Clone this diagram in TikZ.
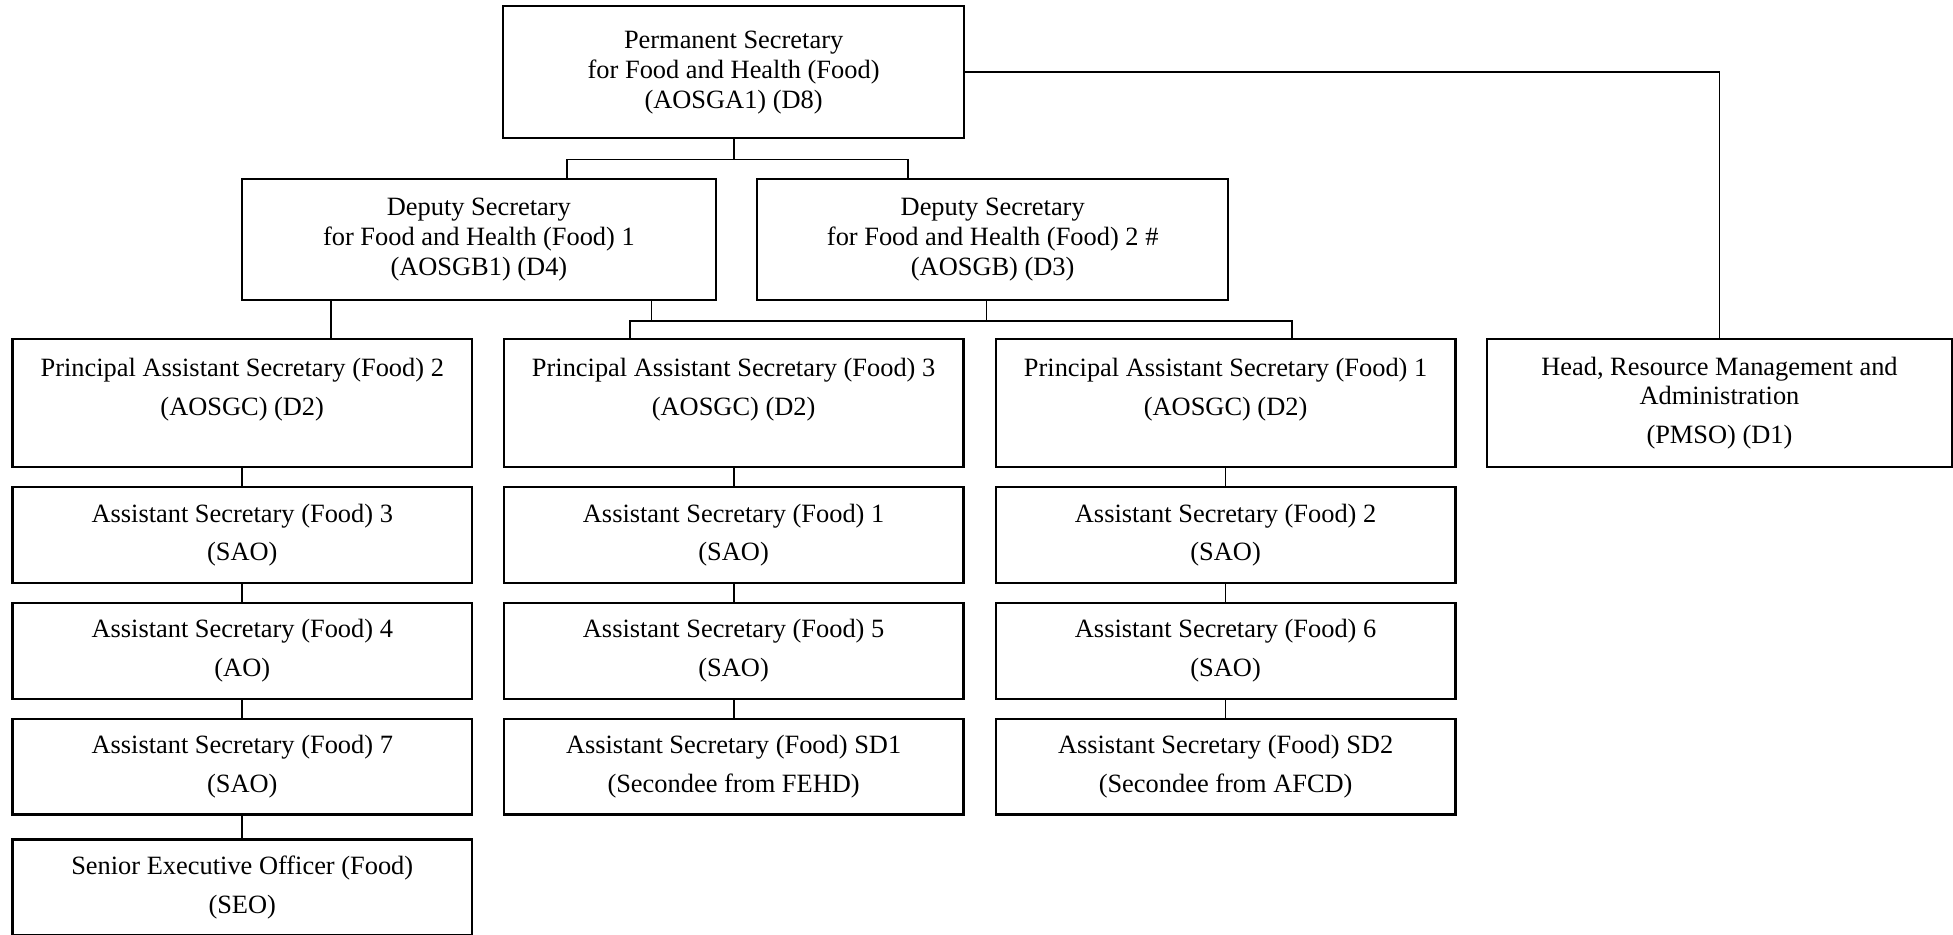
\documentclass[tikz,border=0pt]{standalone}
\usepackage{fontspec}
\setmainfont{Liberation Serif}
\usepackage{tikz}

\tikzset{
    post/.style={draw, line width=0.9pt, align=center, inner sep=0pt,
        minimum width=184.5pt, font=\fontsize{10.6}{12}\selectfont},
    link/.style={line width=0.7pt}
}

\begin{document}
\begin{tikzpicture}[x=0.5pt, y=-0.5pt]
    \useasboundingbox (0,0) rectangle (1568,750);

    \node[post, minimum width=185pt, minimum height=53pt] (ps) at (589,58)
        {Permanent Secretary\\for Food and Health (Food)\\(AOSGA1) (D8)};
    \node[post, minimum width=190.5pt, minimum height=48.5pt] (dsa) at (384.5,192.5)
        {Deputy Secretary\\for Food and Health (Food) 1\\(AOSGB1) (D4)};
    \node[post, minimum width=189pt, minimum height=48.5pt] (dsb) at (797,192.5)
        {Deputy Secretary\\for Food and Health (Food) 2 \#\\(AOSGB) (D3)};

    \node[post, minimum height=51.5pt] (pasb) at (194.5,323.5)
        {Principal Assistant Secretary (Food) 2\\[3.5pt](AOSGC) (D2)\\[1pt]\mbox{}};
    \node[post, minimum height=51.5pt] (pasc) at (589,323.5)
        {Principal Assistant Secretary (Food) 3\\[3.5pt](AOSGC) (D2)\\[1pt]\mbox{}};
    \node[post, minimum height=51.5pt] (pasa) at (984,323.5)
        {Principal Assistant Secretary (Food) 1\\[3.5pt](AOSGC) (D2)\\[1pt]\mbox{}};
    \node[post, minimum width=186.5pt, minimum height=51.5pt] (head) at (1380.5,323.5)
        {Head, Resource Management and\\Administration\\[3.5pt](PMSO) (D1)};

    \node[post, minimum height=38.5pt] (asc) at (194.5,429.5)
        {Assistant Secretary (Food) 3\\[3.5pt](SAO)};
    \node[post, minimum height=38.5pt] (asd) at (194.5,522.5)
        {Assistant Secretary (Food) 4\\[3.5pt](AO)};
    \node[post, minimum height=38.5pt] (asg) at (194.5,615.5)
        {Assistant Secretary (Food) 7\\[3.5pt](SAO)};
    \node[post, minimum height=38.5pt] (seo) at (194.5,712.5)
        {Senior Executive Officer (Food)\\[3.5pt](SEO)};

    \node[post, minimum height=38.5pt] (asa) at (589,429.5)
        {Assistant Secretary (Food) 1\\[3.5pt](SAO)};
    \node[post, minimum height=38.5pt] (ase) at (589,522.5)
        {Assistant Secretary (Food) 5\\[3.5pt](SAO)};
    \node[post, minimum height=38.5pt] (sda) at (589,615.5)
        {Assistant Secretary (Food) SD1\\[3.5pt](Secondee from FEHD)};

    \node[post, minimum height=38.5pt] (asb) at (984,429.5)
        {Assistant Secretary (Food) 2\\[3.5pt](SAO)};
    \node[post, minimum height=38.5pt] (asf) at (984,522.5)
        {Assistant Secretary (Food) 6\\[3.5pt](SAO)};
    \node[post, minimum height=38.5pt] (sdb) at (984,615.5)
        {Assistant Secretary (Food) SD2\\[3.5pt](Secondee from AFCD)};

    \coordinate (ja) at (455,128);
    \coordinate (jb) at (729,128);
    \coordinate (ka) at (506,258);
    \coordinate (kb) at (1037,258);
    \coordinate (kc) at (523,258);
    \coordinate (kd) at (792,258);
    \coordinate (ke) at (266,258);

    \draw[link] (ps.south) -- (ps.south |- ja);
    \draw[link] (ja |- dsa.north) -- (ja) -- (jb) -- (jb |- dsb.north);
    \draw[link] (ps.east) -| (head.north);

    \draw[link] (ke |- dsa.south) -- (ke |- pasb.north);
    \draw[link] (kc |- dsa.south) -- (kc);
    \draw[link] (kd |- dsb.south) -- (kd);
    \draw[link] (ka |- pasc.north) -- (ka) -- (kb) -- (kb |- pasa.north);

    \draw[link] (pasb) -- (asc);
    \draw[link] (asc) -- (asd);
    \draw[link] (asd) -- (asg);
    \draw[link] (asg) -- (seo);

    \draw[link] (pasc) -- (asa);
    \draw[link] (asa) -- (ase);
    \draw[link] (ase) -- (sda);

    \draw[link] (pasa) -- (asb);
    \draw[link] (asb) -- (asf);
    \draw[link] (asf) -- (sdb);
\end{tikzpicture}
\end{document}
